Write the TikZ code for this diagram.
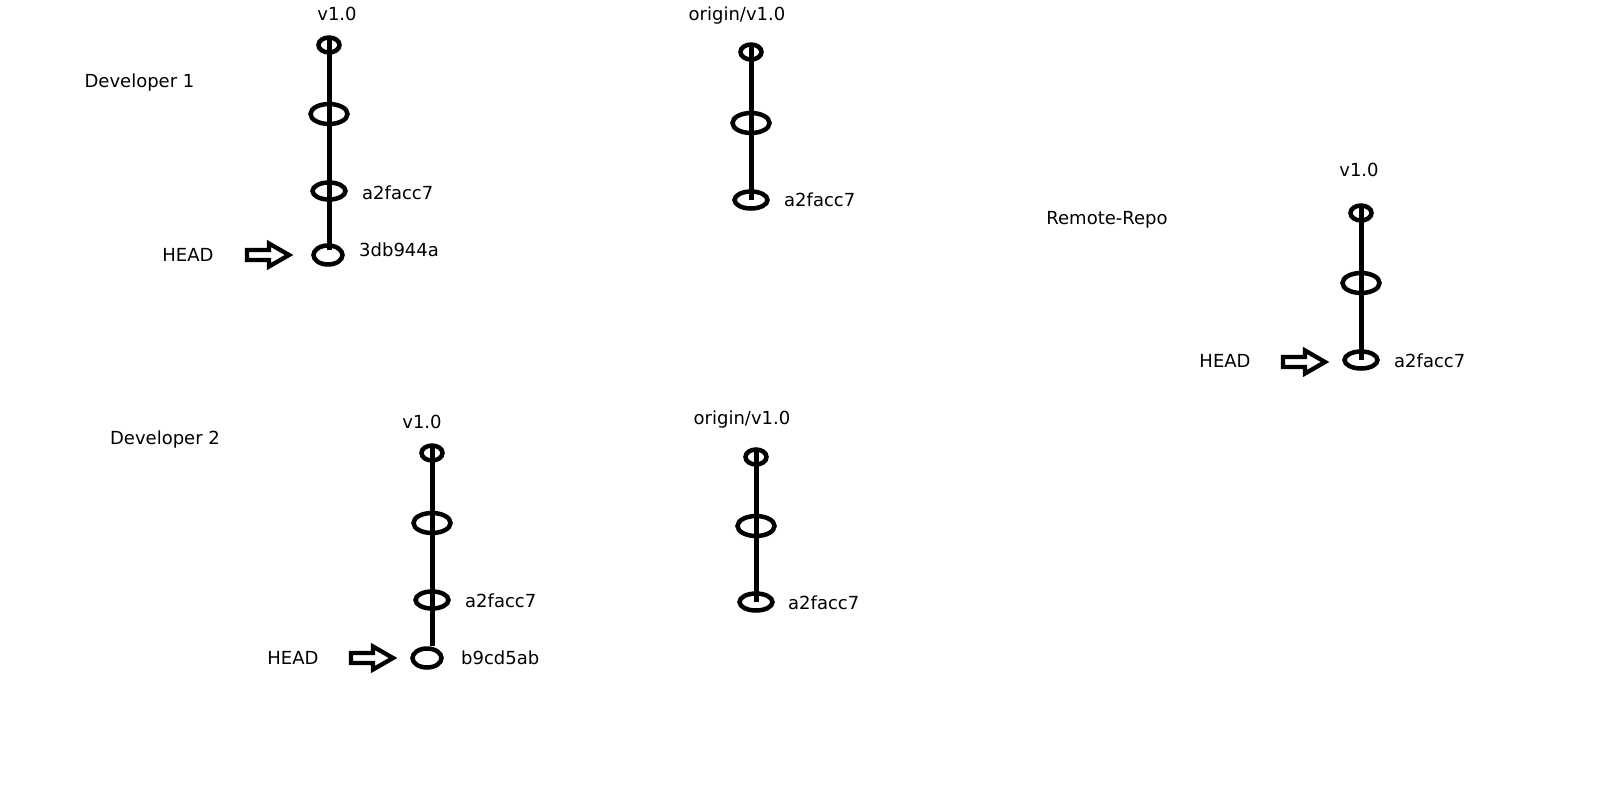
\documentclass[tikz,border=0pt]{standalone}
\usepackage{fontspec}
\setmainfont{DejaVu Sans}
\usetikzlibrary{shapes.geometric}
\tikzset{
  commit/.style={draw, ellipse, line width=4.5pt, inner sep=0pt},
  csmall/.style={commit, minimum width=21pt, minimum height=15pt},
  cbig/.style={commit, minimum width=37pt, minimum height=20pt},
  cmid/.style={commit, minimum width=33pt, minimum height=17pt},
  chead/.style={commit, minimum width=29pt, minimum height=19pt},
  branch/.style={line width=5pt},
  lbl/.style={font=\fontsize{18}{21}\selectfont, inner sep=0pt},
  hash/.style={lbl, anchor=west},
  pics/blockarrow/.style={code={
    \draw[line width=4.3pt, line join=miter] (-22,-5) -- (0,-5) -- (0,-11.5) -- (20,0) -- (0,11.5) -- (0,5) -- (-22,5) -- cycle;
  }}
}
\begin{document}
\begin{tikzpicture}[x=1pt,y=-1pt]
\useasboundingbox (0,0) rectangle (1612,785);

% ---------- Developer 1 ----------
\node[lbl] (dev1) at (139.5,83) {Developer 1};
\node[lbl] (d1tag) at (337,14) {v1.0};
\node[csmall] (d1e1) at (329,45) {};
\node[cbig]   (d1e2) at (329,114) {};
\node[cmid]   (d1e3) at (329,191) {};
\node[chead]  (d1e4) at (328,255) {};
\draw[branch] ([yshift=6pt]d1e1.center) -- ([yshift=5pt]d1e4.center -| d1e1.center);
\node[hash] (d1h3) at (362,193) {a2facc7};
\node[hash] (d1h4) at (359,250) {3db944a};
\node[lbl] (d1head) at (188,255) {HEAD};
\pic (d1arr) at (269,255) {blockarrow};

% ---------- origin (top) ----------
\node[lbl] (o1tag) at (737,16) {origin/v1.0};
\node[csmall] (o1e1) at (751,52) {};
\node[cbig]   (o1e2) at (751,123) {};
\node[cmid]   (o1e3) at (751,200) {};
\draw[branch] ([yshift=6pt]o1e1.center) -- (o1e3.center);
\node[hash] (o1h3) at (784,200) {a2facc7};

% ---------- Remote repo ----------
\node[lbl] (remote) at (1107,220) {Remote-Repo};
\node[lbl] (rtag) at (1359,170) {v1.0};
\node[csmall] (re1) at (1361,213) {};
\node[cbig]   (re2) at (1361,283) {};
\node[cmid]   (re3) at (1361,360) {};
\draw[branch] ([yshift=6pt]re1.center) -- (re3.center);
\node[hash] (rh3) at (1394,361) {a2facc7};
\node[lbl] (rhead) at (1225,361) {HEAD};
\pic (rarr) at (1305,362) {blockarrow};

% ---------- Developer 2 ----------
\node[lbl] (dev2) at (165,440) {Developer 2};
\node[lbl] (d2tag) at (422,422) {v1.0};
\node[csmall] (d2e1) at (432,453) {};
\node[cbig]   (d2e2) at (432,523) {};
\node[cmid]   (d2e3) at (432,600) {};
\node[chead]  (d2e4) at (427,658) {};
\draw[branch] ([yshift=6pt]d2e1.center) -- (d2e1.center |- d2e4.north);
\node[hash] (d2h3) at (465,601) {a2facc7};
\node[hash] (d2h4) at (461,658) {b9cd5ab};
\node[lbl] (d2head) at (293,658) {HEAD};
\pic (d2arr) at (373,658) {blockarrow};

% ---------- origin (bottom) ----------
\node[lbl] (o2tag) at (742,420) {origin/v1.0};
\node[csmall] (o2e1) at (756,457) {};
\node[cbig]   (o2e2) at (756,526) {};
\node[cmid]   (o2e3) at (756,602) {};
\draw[branch] ([yshift=6pt]o2e1.center) -- (o2e3.center);
\node[hash] (o2h3) at (788,603) {a2facc7};
\end{tikzpicture}
\end{document}
